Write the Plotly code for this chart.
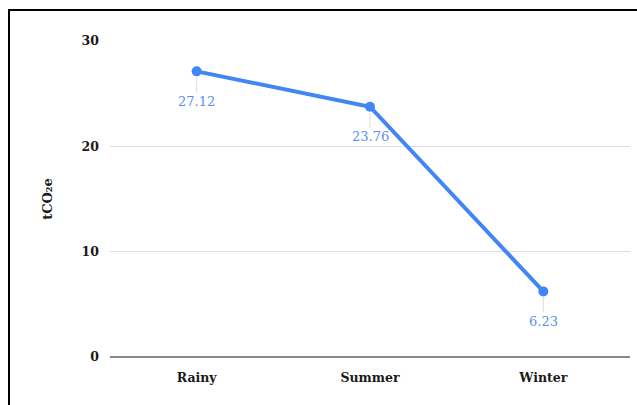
import plotly.graph_objects as go

categories = ["Rainy", "Summer", "Winter"]
values = [27.12, 23.76, 6.23]
value_labels = ["27.12", "23.76", "6.23"]
y_ticks = [0, 10, 20, 30]

W, H = 637, 405
ML, MR, MT, MB = 110, 7, 41, 48
pw = W - ML - MR
ph = H - MT - MB

line_color = "#4285F4"
label_color = "#5b8ff2"
font_family = "DejaVu Serif"

fig = go.Figure()
fig.add_trace(go.Scatter(
    x=categories, y=values, mode="lines+markers",
    line=dict(color=line_color, width=4),
    marker=dict(color=line_color, size=10),
    hoverinfo="skip", showlegend=False,
))

for c, v, t in zip(categories, values, value_labels):
    fig.add_annotation(
        x=c, y=v, xref="x", yref="y", text=t,
        showarrow=True, arrowhead=0, arrowwidth=1, arrowcolor="#dddddd",
        ax=0, ay=30, standoff=6,
        font=dict(family=font_family, size=13, color=label_color),
    )

def px_x(p):
    return (p - ML) / pw

def px_y(p):
    return (H - MB - p) / ph

# outer black frame (top and left edges)
fig.add_shape(type="line", xref="paper", yref="paper",
              x0=px_x(9), x1=px_x(W + 2), y0=px_y(10), y1=px_y(10),
              line=dict(color="black", width=2))
fig.add_shape(type="line", xref="paper", yref="paper",
              x0=px_x(9), x1=px_x(9), y0=px_y(9), y1=px_y(H + 2),
              line=dict(color="black", width=2))

tick_font = dict(family=font_family, size=12.5, color="#1a1a1a", weight="bold")

fig.update_layout(
    width=W, height=H,
    margin=dict(l=ML, r=MR, t=MT, b=MB),
    plot_bgcolor="white", paper_bgcolor="white",
    font=dict(family=font_family, color="#1a1a1a"),
    xaxis=dict(
        type="category", range=[-0.5, 2.5],
        showgrid=False, zeroline=False, showline=False,
        ticks="", ticklabelstandoff=11,
        tickfont=tick_font,
    ),
    yaxis=dict(
        range=[0, 30], tickvals=y_ticks,
        showgrid=True, gridcolor="#dddddd", gridwidth=1,
        zeroline=True, zerolinecolor="#888888", zerolinewidth=1.5,
        showline=False, ticks="", ticklabelstandoff=10,
        tickfont=tick_font,
        title=dict(text="tCO₂e", standoff=26,
                   font=dict(family=font_family, size=13, color="#1a1a1a", weight="bold")),
    ),
)

fig.write_html("out.html", config={"displayModeBar": False},
               post_script="document.body.style.margin='0';document.body.style.overflow='hidden';")
